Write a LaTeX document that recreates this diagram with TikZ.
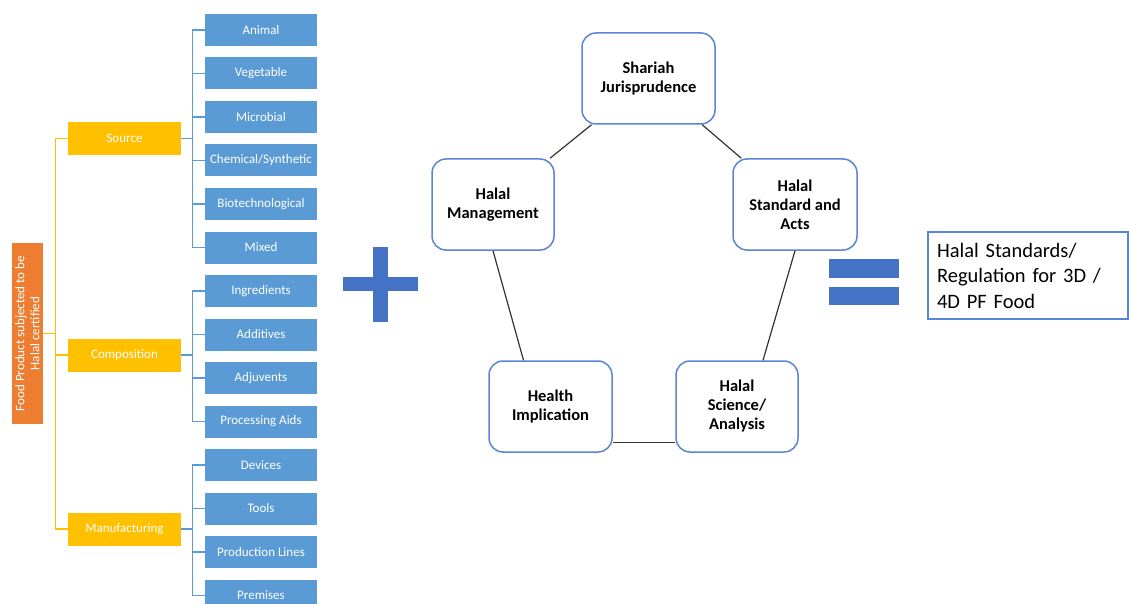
\documentclass[tikz,border=0pt]{standalone}
\usepackage{fontspec}
\setmainfont{Carlito}
\usetikzlibrary{calc}
\definecolor{bbox}{HTML}{5B9BD5}
\definecolor{ybox}{HTML}{FFC000}
\definecolor{obox}{HTML}{ED7D31}
\definecolor{pblue}{HTML}{4472C4}
\definecolor{pborder}{HTML}{5A85D6}
\definecolor{lnk}{HTML}{333333}
\begin{document}
\begin{tikzpicture}[x=1pt,y=-1pt,
  leaf/.style={fill=bbox, text=white, minimum width=112pt, minimum height=32pt, inner sep=0pt, font=\fontsize{13}{15}\selectfont},
  cat/.style={fill=ybox, text=white, minimum width=113pt, minimum height=33pt, inner sep=0pt, font=\fontsize{13}{15}\selectfont},
  pent/.style={draw=pborder, line width=1.5pt, rounded corners=14pt, fill=white, align=center, inner sep=0pt, minimum height=91pt, font=\bfseries\fontsize{16.5}{19}\selectfont},
  bline/.style={draw=bbox, line width=1.5pt},
  yline/.style={draw=ybox, line width=1.5pt},
  link/.style={draw=lnk, line width=1.2pt}]
\useasboundingbox (0,0) rectangle (1129,604);

% root
\node[fill=obox, minimum width=31pt, minimum height=181pt, inner sep=0pt] (food) at (27.5,333.5) {};
\node[rotate=90, text=white, align=center, inner sep=0pt, font=\fontsize{13}{15}\selectfont] (foodtxt) at (food.center) {Food Product subjected to be\\Halal certified};

% categories
\node[cat] (src) at (124.5,138.5) {Source};
\node[cat] (comp) at (124.5,355) {Composition};
\node[cat] (manu) at (124.5,529) {Manufacturing};

% leaves
\node[leaf] (l1) at (261,30) {Animal};
\node[leaf] (l2) at (261,73.5) {Vegetable};
\node[leaf] (l3) at (261,117) {Microbial};
\node[leaf] (l4) at (261,160.5) {Chemical/Synthetic};
\node[leaf] (l5) at (261,204) {Biotechnological};
\node[leaf] (l6) at (261,247.5) {Mixed};
\node[leaf] (l7) at (261,291) {Ingredients};
\node[leaf] (l8) at (261,334.5) {Additives};
\node[leaf] (l9) at (261,378) {Adjuvents};
\node[leaf] (l10) at (261,421.5) {Processing Aids};
\node[leaf] (l11) at (261,465) {Devices};
\node[leaf] (l12) at (261,508.5) {Tools};
\node[leaf] (l13) at (261,552) {Production Lines};
\node[leaf] (l14) at (261,595.5) {Premises};

% yellow bracket
\foreach \c in {src,comp,manu}
  \draw[yline] (food.east) -- ++(12.5,0) |- (\c.west);

% blue brackets
\foreach \c in {l1,l2,l3,l4,l5,l6}
  \draw[bline] (src.east) -- ++(11.5,0) |- (\c.west);
\foreach \c in {l7,l8,l9,l10}
  \draw[bline] (comp.east) -- ++(11.5,0) |- (\c.west);
\foreach \c in {l11,l12,l13,l14}
  \draw[bline] (manu.east) -- ++(11.5,0) |- (\c.west);

% plus sign
\fill[pblue] (343,277) rectangle (418,291);
\fill[pblue] (373,247) rectangle (388,322);

% pentagon
\node[pent, minimum width=133pt] (sj) at (648.5,78.5) {Shariah\\Jurisprudence};
\node[pent, minimum width=122pt] (hm) at (493,204.5) {Halal\\Management};
\node[pent, minimum width=124pt] (hs) at (795,204.5) {Halal\\Standard and\\Acts};
\node[pent, minimum width=123pt] (hi) at (550.5,406.5) {Health\\Implication};
\node[pent, minimum width=122pt] (sc) at (737,406.5) {Halal\\Science/\\Analysis};

\draw[link] (sj) -- (hm);
\draw[link] (sj) -- (hs);
\draw[link] (hm.south) -- ($(hi.north)+(-27,0)$);
\draw[link] (hs.south) -- ($(sc.north)+(26,0)$);
\draw[link] ($(hi.south east)+(0,-10)$) -- ($(sc.south west)+(0,-10)$);

% equals sign
\fill[pblue] (829,259) rectangle (899,278);
\fill[pblue] (829,287) rectangle (899,305);

% result
\node[draw=pborder, line width=1.2pt, minimum width=200pt, minimum height=87pt, text width=182pt, inner xsep=9pt, align=left, font=\fontsize{20.5}{25.5}\selectfont] (res) at (1028,275.5) {Halal Standards/\\Regulation for 3D /\\4D PF Food};
\end{tikzpicture}
\end{document}
